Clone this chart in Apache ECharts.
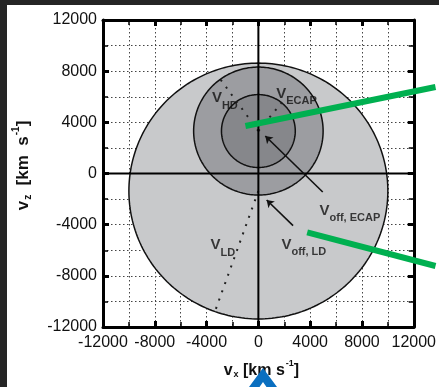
<!DOCTYPE html>
<html>
<head>
<meta charset="utf-8">
<script src="https://cdn.jsdelivr.net/npm/echarts@6/dist/echarts.min.js"></script>
<style>
  html, body { margin: 0; padding: 0; background: #fff; }
  #chart { width: 439px; height: 387px; }
</style>
</head>
<body>
<div id="chart"></div>
<script>
// Axis range and labelled ticks (km/s)
const axisMin = -12000;
const axisMax = 12000;
const labelStep = 4000;
const tickValues = [-12000, -8000, -4000, 0, 4000, 8000, 12000];
const tickLabels = ['-12000', '-8000', '-4000', '0', '4000', '8000', '12000'];

// Velocity regions, drawn largest first: centre (vx, vz) and radius, km/s
const regionNames = ['LD', 'HD', 'ECAP'];
const regionCenterX = [0, 0, 0];
const regionCenterZ = [-1370, 3320, 3320];
const regionRadius = [10000, 5000, 2850];

// Dotted radius markers: [start, end] in (vx, vz)
const radiusLD = [[0, -1370], [-3355, -10790]];
const radiusHD = [[0, 3320], [-2939, 7365]];
const radiusECAP = [[0, 3320], [1794, 5535]];

// Offset arrows: [tail, head]
const offsetECAP = [[4970, -1450], [535, 2930]];
const offsetLD = [[2680, -4080], [640, -2070]];

// Green pointer lines running out past the right frame
const pointerUpper = [[-1000, 3710], [13680, 6760]];
const pointerLower = [[3770, -4600], [13680, -7230]];

// Region / offset annotations: anchor (vx, vz) and subscript text
const noteX = [-3590, 1380, 4720, 1780, -3690];
const noteZ = [5900, 6220, -2890, -5570, -5590];
const noteSub = ['HD', 'ECAP', 'off, ECAP', 'off, LD', 'LD'];

const FONT = '"Liberation Sans", Arial, Helvetica, sans-serif';
const regionFill = ['#c8c9cb', '#9c9da1', '#86878b'];

const chart = echarts.init(document.getElementById('chart'), null, { renderer: 'canvas' });

function tickLabel(v) {
  const i = tickValues.indexOf(v);
  return i >= 0 ? tickLabels[i] : '';
}

function titleRich(size, lead) {
  const small = Math.round(size * 0.56);
  return {
    f: { fontFamily: FONT, fontSize: size, fontWeight: 'bold', color: '#111', padding: [0, 0, 0, lead] },
    b: { fontFamily: FONT, fontSize: size, fontWeight: 'bold', color: '#111' },
    s: { fontFamily: FONT, fontSize: small, fontWeight: 'bold', color: '#111', padding: [Math.round(size * 0.58), 0, 0, 1] },
    u: { fontFamily: FONT, fontSize: small, fontWeight: 'bold', color: '#111', padding: [0, 0, Math.round(size * 0.88), 1] }
  };
}

function frameAxis(extra) {
  return Object.assign({
    type: 'value',
    min: axisMin,
    max: axisMax,
    interval: labelStep,
    axisLine: { show: true, onZero: false, lineStyle: { color: '#000', width: 3 } },
    axisTick: { show: true, inside: true, length: 6, lineStyle: { color: '#000', width: 3 } },
    minorTick: { show: true, splitNumber: 2, length: 5, lineStyle: { color: '#000', width: 1.5 } },
    splitLine: { show: false },
    minorSplitLine: { show: false },
    axisLabel: { show: false }
  }, extra);
}

const gridDots = { color: '#444', width: 1, type: [1.5, 2.5] };

// straight segment between two (vx, vz) points, not clipped to the plot area
function segmentSeries(seg, z, lineStyle) {
  return {
    type: 'custom', z: z, silent: true, clip: false,
    data: [[seg[0][0], seg[0][1], seg[1][0], seg[1][1]]],
    renderItem(params, api) {
      const a = api.coord([api.value(0), api.value(1)]);
      const b = api.coord([api.value(2), api.value(3)]);
      return {
        type: 'line',
        shape: { x1: a[0], y1: a[1], x2: b[0], y2: b[1] },
        style: Object.assign({ fill: null }, lineStyle)
      };
    }
  };
}

const option = {
  backgroundColor: '#fff',
  animation: false,
  grid: { left: 103, right: 22, top: 20, bottom: 60, containLabel: false },
  xAxis: [
    frameAxis({
      position: 'bottom',
      splitLine: { show: true, lineStyle: gridDots },
      minorSplitLine: { show: true, lineStyle: gridDots },
      axisLabel: { show: true, margin: 8, color: '#111', fontFamily: FONT, fontSize: 16, formatter: tickLabel },
      name: '{f|v}{s|x}{b| [km s}{u|-1}{b|]}',
      nameLocation: 'middle',
      nameGap: 32,
      nameTextStyle: { rich: titleRich(16, 6) }
    }),
    frameAxis({ position: 'top' })
  ],
  yAxis: [
    frameAxis({
      position: 'left',
      splitLine: { show: true, lineStyle: gridDots },
      minorSplitLine: { show: true, lineStyle: gridDots },
      axisLabel: { show: true, margin: 6, color: '#111', fontFamily: FONT, fontSize: 16, formatter: tickLabel },
      name: '{f|v}{s|z}{b|  [km  s}{u|-1}{b|]}',
      nameLocation: 'middle',
      nameGap: 67,
      nameTextStyle: { rich: titleRich(17, 16) }
    }),
    frameAxis({ position: 'right' })
  ],
  graphic: [
    // dark surround along the top and left edges
    { type: 'rect', shape: { x: 0, y: 0, width: 439, height: 5 }, style: { fill: '#252525' }, z: 10 },
    { type: 'rect', shape: { x: 0, y: 0, width: 7, height: 387 }, style: { fill: '#252525' }, z: 10 },
    // blue pointer under the horizontal axis title
    {
      type: 'polygon', z: 20,
      shape: { points: [[263, 368], [277, 387], [266.5, 387], [263, 382], [259.5, 387], [249, 387]] },
      style: { fill: '#0a6fc0' }
    }
  ],
  series: [
    {
      type: 'custom',
      name: 'regions',
      z: 2,
      data: regionNames.map((n, i) => [regionCenterX[i], regionCenterZ[i], regionRadius[i]]),
      renderItem(params, api) {
        const c = api.coord([api.value(0), api.value(1)]);
        const r = api.value(2);
        const rx = api.size([r, 0])[0];
        const ry = api.size([0, r])[1];
        const pts = [];
        for (let k = 0; k < 240; k++) {
          const a = (k / 240) * Math.PI * 2;
          pts.push([c[0] + rx * Math.cos(a), c[1] + ry * Math.sin(a)]);
        }
        return {
          type: 'polygon',
          shape: { points: pts },
          style: { fill: regionFill[params.dataIndex], stroke: '#111', lineWidth: 1.5 }
        };
      }
    },
    // dotted radius markers
    ...[radiusLD, radiusHD, radiusECAP].map(seg => segmentSeries(seg, 3,
      { stroke: '#222', lineWidth: 2, lineDash: [2, 6.8] })),
    // zero axes through the regions
    segmentSeries([[axisMin, 0], [axisMax, 0]], 4, { stroke: '#000', lineWidth: 2 }),
    segmentSeries([[0, axisMin], [0, axisMax]], 4, { stroke: '#000', lineWidth: 2 }),
    // offset arrows
    {
      type: 'lines', coordinateSystem: 'cartesian2d', z: 5, silent: true,
      symbol: ['none', 'arrow'], symbolSize: 7,
      lineStyle: { color: '#111', width: 1.6, opacity: 1 },
      data: [{ coords: offsetECAP }, { coords: offsetLD }]
    },
    // annotations
    {
      type: 'scatter', z: 6, symbolSize: 0, silent: true,
      data: noteX.map((x, i) => [x, noteZ[i]]),
      label: {
        show: true, position: 'right', distance: 0,
        formatter: p => '{v|V}{s|' + noteSub[p.dataIndex] + '}',
        rich: {
          v: { fontFamily: FONT, fontSize: 15, fontWeight: 'bold', color: '#111' },
          s: { fontFamily: FONT, fontSize: 11, fontWeight: 'bold', color: '#111', padding: [15, 0, 0, 0] }
        }
      }
    },
    // green pointer lines
    ...[pointerUpper, pointerLower].map(seg => segmentSeries(seg, 8,
      { stroke: '#00b050', lineWidth: 6, lineCap: 'butt' }))
  ]
};

chart.setOption(option);
</script>
</body>
</html>
